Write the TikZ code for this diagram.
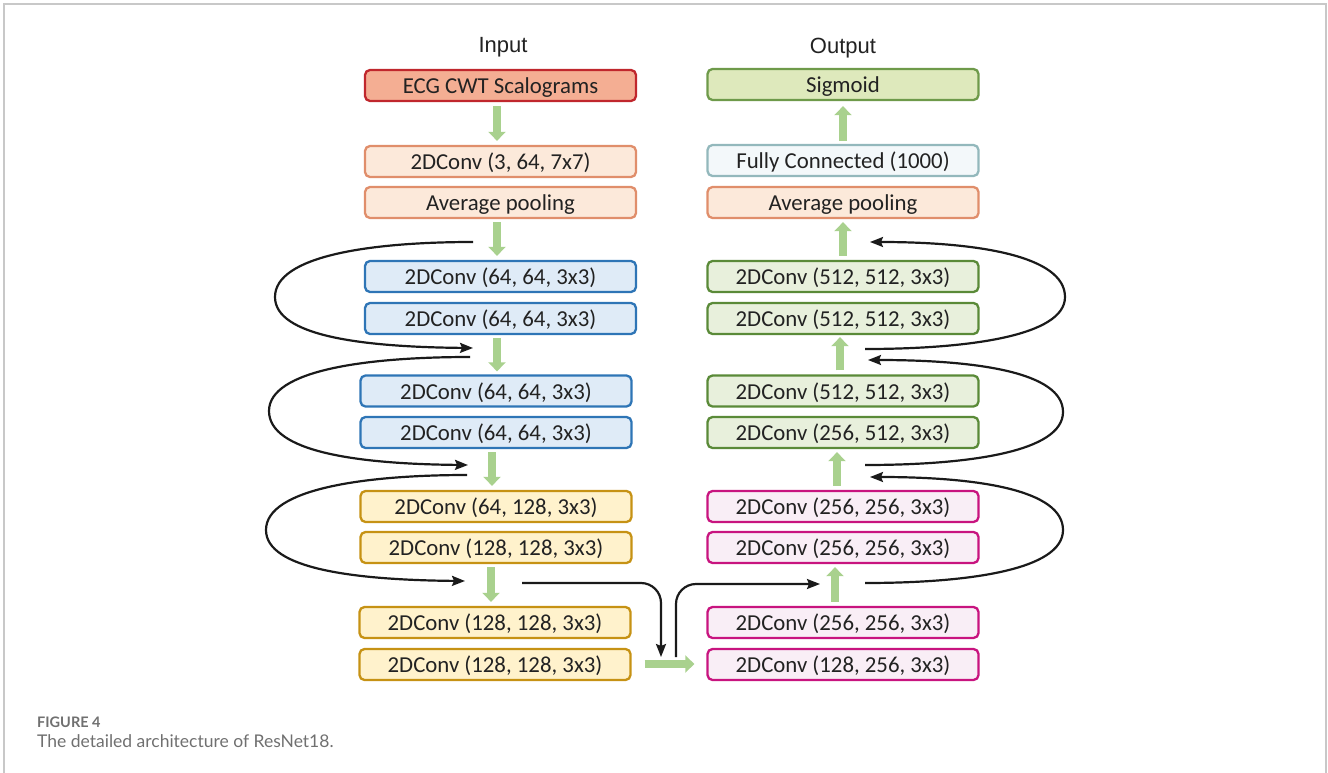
\documentclass[tikz,border=0pt]{standalone}
\usepackage{fontspec}
\setmainfont{Carlito}
\newfontfamily\lblfont{Liberation Sans}
\newfontfamily\capfont{Lato}
\usetikzlibrary{arrows.meta,calc}
\definecolor{txt}{HTML}{222222}
\definecolor{inFill}{HTML}{F4AE93}
\definecolor{inDraw}{HTML}{C0272D}
\definecolor{orFill}{HTML}{FCE9DA}
\definecolor{orDraw}{HTML}{E08E6B}
\definecolor{blFill}{HTML}{DFEBF7}
\definecolor{blDraw}{HTML}{2E75B6}
\definecolor{yeFill}{HTML}{FFF2CC}
\definecolor{yeDraw}{HTML}{C69214}
\definecolor{grFill}{HTML}{E8F0DC}
\definecolor{grDraw}{HTML}{5A8A38}
\definecolor{sgFill}{HTML}{DEE9BC}
\definecolor{sgDraw}{HTML}{6E9A4A}
\definecolor{fcFill}{HTML}{F3F8FA}
\definecolor{fcDraw}{HTML}{93B8BC}
\definecolor{mgFill}{HTML}{F9EEF6}
\definecolor{mgDraw}{HTML}{C8147F}
\definecolor{garr}{HTML}{A9D18E}
\definecolor{curve}{HTML}{1A1A1A}
\definecolor{framec}{HTML}{C8C8C8}
\definecolor{capc}{HTML}{707070}
\begin{document}
\begin{tikzpicture}[x=1pt,y=-1pt,
  box/.style={draw, rounded corners=5pt, line width=2.3pt, minimum width=271pt,
    minimum height=31pt, inner sep=0pt, text height=18pt, text depth=2pt,
    font=\fontsize{22.8}{26}\selectfont, text=txt},
  inbox/.style={box, fill=inFill, draw=inDraw},
  orbox/.style={box, fill=orFill, draw=orDraw},
  blbox/.style={box, fill=blFill, draw=blDraw},
  yebox/.style={box, fill=yeFill, draw=yeDraw},
  grbox/.style={box, fill=grFill, draw=grDraw},
  sgbox/.style={box, fill=sgFill, draw=sgDraw},
  fcbox/.style={box, fill=fcFill, draw=fcDraw},
  mgbox/.style={box, fill=mgFill, draw=mgDraw},
  garrow/.style={draw=garr, line width=8.5pt, -{Triangle[width=17pt,length=9pt]}},
  loopline/.style={draw=curve, line width=2.2pt, -{Stealth[length=13pt,width=10pt,inset=2pt]}},
  lbl/.style={font=\lblfont\fontsize{22}{26}\selectfont, text=txt, inner sep=0pt, anchor=base},
]
\useasboundingbox (0,0) rectangle (1328,773);
\draw[framec, line width=2pt] (4,773) -- (4,4) -- (1326,4) -- (1326,773);

% labels
\node[lbl] (inlbl) at (503,53) {Input};
\node[lbl] (outlbl) at (843,54) {Output};

% left column
\node[inbox] (ecg) at (500.5,85.5) {ECG CWT Scalograms};
\node[orbox] (c1) at (500.5,161.5) {2DConv (3, 64, 7x7)};
\node[orbox] (ap1) at (500.5,202.5) {Average pooling};
\node[blbox] (b1) at (500.5,276.5) {2DConv (64, 64, 3x3)};
\node[blbox] (b2) at (500.5,318.5) {2DConv (64, 64, 3x3)};
\node[blbox] (b3) at (496,391) {2DConv (64, 64, 3x3)};
\node[blbox] (b4) at (496,432.5) {2DConv (64, 64, 3x3)};
\node[yebox] (y1) at (496,506.5) {2DConv (64, 128, 3x3)};
\node[yebox] (y2) at (496,547.5) {2DConv (128, 128, 3x3)};
\node[yebox] (y3) at (495,622.5) {2DConv (128, 128, 3x3)};
\node[yebox] (y4) at (495,664.5) {2DConv (128, 128, 3x3)};

% right column
\node[sgbox] (sig) at (843,84.5) {Sigmoid};
\node[fcbox] (fc) at (843,160.5) {Fully Connected (1000)};
\node[orbox] (ap2) at (843,202.5) {Average pooling};
\node[grbox] (g1) at (843,276.5) {2DConv (512, 512, 3x3)};
\node[grbox] (g2) at (843,318.5) {2DConv (512, 512, 3x3)};
\node[grbox] (g3) at (843,391) {2DConv (512, 512, 3x3)};
\node[grbox] (g4) at (843,432.5) {2DConv (256, 512, 3x3)};
\node[mgbox] (m1) at (843,506.5) {2DConv (256, 256, 3x3)};
\node[mgbox] (m2) at (843,547.5) {2DConv (256, 256, 3x3)};
\node[mgbox] (m3) at (843,622.5) {2DConv (256, 256, 3x3)};
\node[mgbox] (m4) at (843,664.5) {2DConv (128, 256, 3x3)};

% green arrows, left (down)
\draw[garrow] ($(ecg.south)+(-3.5,4)$) -- ($(c1.north)+(-3.5,-4)$);
\draw[garrow] ($(ap1.south)+(-3.5,3)$) -- ($(b1.north)+(-3.5,-4)$);
\draw[garrow] ($(b2.south)+(-3.5,3)$) -- ($(b3.north)+(1,-3)$);
\draw[garrow] ($(b4.south)+(-4,3)$) -- ($(y1.north)+(-4,-4)$);
\draw[garrow] ($(y2.south)+(-5,3)$) -- ($(y3.north)+(-4,-4)$);
% green arrows, right (up)
\draw[garrow] ($(fc.north)+(0,-3)$) -- ($(sig.south)+(0,5)$);
\draw[garrow] ($(g1.north)+(0,-4)$) -- ($(ap2.south)+(0,3)$);
\draw[garrow] ($(g3.north)+(-3,-4)$) -- ($(g2.south)+(-3,2)$);
\draw[garrow] ($(m1.north)+(-6,-4)$) -- ($(g4.south)+(-6,3)$);
\draw[garrow] ($(m3.north)+(-8,-4)$) -- ($(m2.south)+(-8,3)$);
% horizontal
\draw[garrow] ($(y4.east)+(13,-0.5)$) -- ($(m4.west)+(-12,-0.5)$);

% skip connections, left
\coordinate (l1s) at (473,242); \coordinate (l1e) at (473,348);
\coordinate (l2s) at (470,357); \coordinate (l2e) at (468,465);
\coordinate (l3s) at (467,475); \coordinate (l3e) at (465,581);
\draw[loopline] (l1s) .. controls (370,242) and (275,256) .. (275,297) .. controls (275,336) and (362,347) .. (l1e);
\draw[loopline] (l2s) .. controls (367,357) and (269,370) .. (269,411) .. controls (269,452) and (358,464) .. (l2e);
\draw[loopline] (l3s) .. controls (364,475) and (266,489) .. (266,530) .. controls (266,569) and (355,580) .. (l3e);

% skip connections, right
\coordinate (r1s) at (865,583); \coordinate (r1e) at (870,477);
\coordinate (r2s) at (865,465); \coordinate (r2e) at (868,360);
\coordinate (r3s) at (865,349); \coordinate (r3e) at (870,242);
\draw[loopline] (r1s) .. controls (968,583) and (1063,570) .. (1063,530) .. controls (1063,490) and (978,477) .. (r1e);
\draw[loopline] (r2s) .. controls (968,465) and (1063,452) .. (1063,412) .. controls (1063,372) and (976,360) .. (r2e);
\draw[loopline] (r3s) .. controls (968,349) and (1065,336) .. (1065,297) .. controls (1065,256) and (978,242) .. (r3e);

% bridge connections
\coordinate (p4s) at (522,583); \coordinate (p4e) at (661,657);
\coordinate (p5s) at (676,657); \coordinate (p5e) at (820,584);
\draw[loopline, rounded corners=20pt] (p4s) -| (p4e);
\draw[loopline, rounded corners=20pt] (p5s) |- (p5e);

% caption
\node[anchor=base west, inner sep=0pt, font=\capfont\bfseries\fontsize{14.5}{16}\selectfont, text=capc] (fig) at (37,727) {FIGURE 4};
\node[anchor=base west, inner sep=0pt, font=\capfont\fontsize{17.5}{20}\selectfont, text=capc] (cap) at (37,747) {The detailed architecture of ResNet18.};
\end{tikzpicture}
\end{document}
